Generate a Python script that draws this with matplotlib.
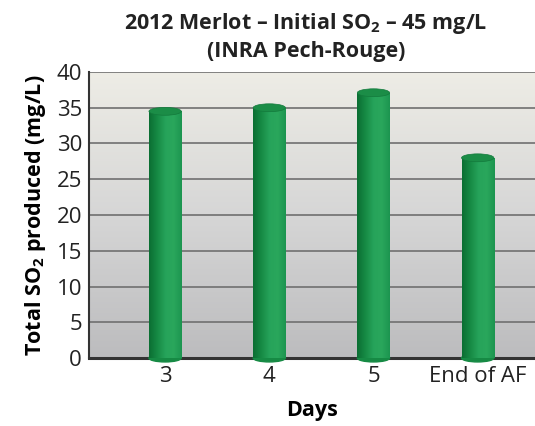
import matplotlib.pyplot as plt
import numpy as np
from matplotlib.patches import Ellipse
from matplotlib.colors import LinearSegmentedColormap

plt.rcParams['font.family'] = ['Open Sans', 'DejaVu Sans']
plt.rcParams['mathtext.fontset'] = 'custom'
plt.rcParams['mathtext.rm'] = 'Open Sans'
plt.rcParams['mathtext.bf'] = 'Open Sans:bold'

days = ['3', '4', '5', 'End of AF']
so2 = [34.5, 35.0, 37.1, 28.0]

fig = plt.figure(figsize=(5.35, 4.26), dpi=100)
ax = fig.add_axes([0.1664, 0.1596, 0.8336, 0.6714])

# plot area background gradient
bg = LinearSegmentedColormap.from_list('bg', ['#bcbcbe', '#d6d6d6', '#eeede6'])
ax.imshow(np.linspace(0, 1, 256).reshape(-1, 1)[::-1], cmap=bg, aspect='auto',
          extent=[0, 1, 0, 1], transform=ax.transAxes, zorder=0)

x = np.arange(len(days))
w = 0.31
cyl = LinearSegmentedColormap.from_list('cyl', ['#0b6e33', '#168a44', '#26a35a', '#2aa75c', '#1c9550'])
grad = np.linspace(0, 1, 128).reshape(1, -1)
cap_h = 1.1

bars = ax.bar(x, so2, width=w, color='none', edgecolor='none', zorder=3)
for b, v in zip(bars, so2):
    x0 = b.get_x()
    im = ax.imshow(grad, cmap=cyl, aspect='auto', extent=[x0, x0 + w, 0, v], zorder=3)
    im.set_clip_path(b)
    ax.add_patch(Ellipse((x0 + w / 2, 0), w, cap_h, color='#168a44', zorder=2.9, clip_on=False))
    ax.add_patch(Ellipse((x0 + w / 2, v), w, cap_h, facecolor='#1b8d47', edgecolor='#137a3c',
                         lw=0.5, zorder=4))

ax.set_xlim(-0.73, 3.55)
ax.set_ylim(0, 40)
ax.set_yticks(range(0, 41, 5))
ax.set_xticks(x)
ax.set_xticklabels(days)
ax.yaxis.grid(True, color='#707070', lw=1.2, zorder=1)
ax.set_axisbelow(True)
ax.tick_params(length=0, labelsize=16, colors='#222222', pad=5)
ax.tick_params(axis='x', pad=6)

for s in ['top', 'right']:
    ax.spines[s].set_visible(False)
ax.spines['left'].set_color('#333333')
ax.spines['left'].set_linewidth(1.5)
ax.spines['bottom'].set_color('#333333')
ax.spines['bottom'].set_linewidth(2.2)

ax.set_xlabel('Days', fontsize=15.5, fontweight='bold', labelpad=9)
ax.set_ylabel(r'Total SO$_\mathbf{2}$ produced (mg/L)', fontsize=15.5, fontweight='bold', labelpad=6)
fig.text(0.572, 0.946, r'2012 Merlot – Initial SO$_\mathbf{2}$ – 45 mg/L', ha='center', va='center',
         fontsize=15.5, fontweight='bold', color='#222222')
fig.text(0.572, 0.878, '(INRA Pech-Rouge)', ha='center', va='center',
         fontsize=15.5, fontweight='bold', color='#222222')

fig.savefig('out.png', dpi=100)
